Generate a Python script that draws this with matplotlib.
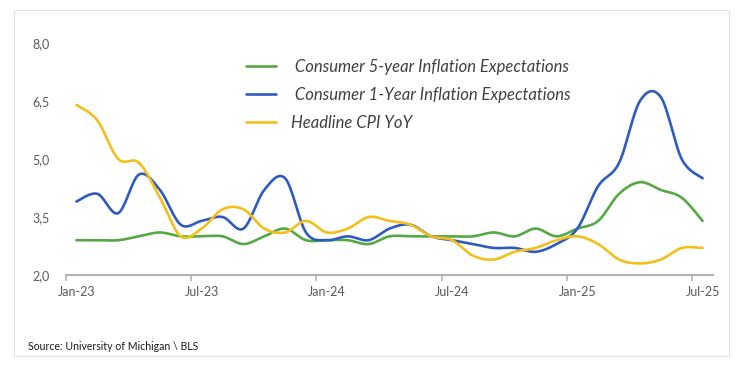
import numpy as np
import matplotlib
matplotlib.use("Agg")
import matplotlib.pyplot as plt
from matplotlib.patches import Rectangle

months = ["Jan-23","Feb-23","Mar-23","Apr-23","May-23","Jun-23","Jul-23","Aug-23","Sep-23","Oct-23","Nov-23","Dec-23",
          "Jan-24","Feb-24","Mar-24","Apr-24","May-24","Jun-24","Jul-24","Aug-24","Sep-24","Oct-24","Nov-24","Dec-24",
          "Jan-25","Feb-25","Mar-25","Apr-25","May-25","Jun-25","Jul-25"]

five_year = [2.9, 2.9, 2.9, 3.0, 3.1, 3.0, 3.0, 3.0, 2.8, 3.0, 3.2, 2.9,
             2.9, 2.9, 2.8, 3.0, 3.0, 3.0, 3.0, 3.0, 3.1, 3.0, 3.2, 3.0,
             3.2, 3.4, 4.1, 4.4, 4.2, 4.0, 3.4]
one_year = [3.9, 4.1, 3.6, 4.6, 4.2, 3.3, 3.4, 3.5, 3.2, 4.2, 4.5, 3.1,
            2.9, 3.0, 2.9, 3.2, 3.3, 3.0, 2.9, 2.8, 2.7, 2.7, 2.6, 2.8,
            3.2, 4.3, 4.9, 6.5, 6.6, 5.0, 4.5]
cpi_yoy = [6.4, 6.0, 5.0, 4.9, 4.0, 3.0, 3.2, 3.7, 3.7, 3.2, 3.1, 3.4,
           3.1, 3.2, 3.5, 3.4, 3.3, 3.0, 2.9, 2.5, 2.4, 2.6, 2.7, 2.9,
           3.0, 2.8, 2.4, 2.3, 2.4, 2.7, 2.7]

series_labels = [" Consumer 5-year Inflation Expectations",
                 " Consumer 1-Year Inflation Expectations",
                 "Headline CPI YoY"]
series_colors = ["#56a845", "#2e5cbc", "#f3bf1c"]
y_ticks = [2.0, 3.5, 5.0, 6.5, 8.0]
x_label_idx = [0, 6, 12, 18, 24, 30]
source_text = "Source: University of Michigan \\ BLS"


def smooth(xs, ys, n=30):
    xs = np.asarray(xs, float)
    ys = np.asarray(ys, float)
    px, py = [], []
    m = len(xs)
    for i in range(m - 1):
        i0 = max(i - 1, 0)
        i3 = min(i + 2, m - 1)
        x0, y0 = xs[i], ys[i]
        x3, y3 = xs[i + 1], ys[i + 1]
        x1 = x0 + (xs[i + 1] - xs[i0]) / 6.0
        y1 = y0 + (ys[i + 1] - ys[i0]) / 6.0
        x2 = x3 - (xs[i3] - xs[i]) / 6.0
        y2 = y3 - (ys[i3] - ys[i]) / 6.0
        t = np.linspace(0, 1, n, endpoint=(i == m - 2))
        a = (1 - t) ** 3
        b = 3 * (1 - t) ** 2 * t
        c = 3 * (1 - t) * t ** 2
        d = t ** 3
        px.append(a * x0 + b * x1 + c * x2 + d * x3)
        py.append(a * y0 + b * y1 + c * y2 + d * y3)
    return np.concatenate(px), np.concatenate(py)


fig = plt.figure(figsize=(7.45, 3.71), dpi=100)
fig.patch.set_facecolor("white")
fig.patches.append(Rectangle((14 / 745, 1 - 356 / 371), (729 - 14) / 745, (356 - 10) / 371,
                             transform=fig.transFigure, fill=False, edgecolor="#e3e3e3", linewidth=0.8))

ax = fig.add_axes([66 / 745, 1 - 275 / 371, (713 - 66) / 745, (275 - 43) / 371])
x = np.arange(len(months))
handles = []
for vals, col, lab in zip([five_year, one_year, cpi_yoy], series_colors, series_labels):
    sx, sy = smooth(x, vals)
    h, = ax.plot(sx, sy, color=col, linewidth=1.9, label=lab, solid_capstyle="round")
    handles.append(h)

ax.set_xlim(-0.5, len(months) - 0.5)
ax.set_ylim(2.0, 8.0)
ax.set_yticks(y_ticks)
ax.set_yticklabels([f"{v:.1f}".replace(".", ",") for v in y_ticks])
ax.tick_params(axis="y", length=0, pad=12, labelsize=9, labelcolor="#595959")
for lbl in ax.get_yticklabels():
    lbl.set_fontfamily("Lato")

ax.set_xticks([i - 0.5 for i in x_label_idx])
ax.set_xticklabels([])
ax.set_xticks(x_label_idx, minor=True)
ax.set_xticklabels([months[i] for i in x_label_idx], minor=True, fontfamily="Lato")
ax.tick_params(axis="x", which="major", length=4, width=1.2, color="#b3b3b3", direction="out")
ax.tick_params(axis="x", which="minor", length=0, pad=8, labelsize=9, labelcolor="#595959")

for s in ["top", "right", "left"]:
    ax.spines[s].set_visible(False)
ax.spines["bottom"].set_color("#b3b3b3")
ax.spines["bottom"].set_linewidth(1.5)

leg = fig.legend(handles=handles, loc="upper left", bbox_to_anchor=(246 / 745, 1 - 59 / 371),
                 frameon=False, handlelength=1.8, handletextpad=0.9, labelspacing=0.72,
                 prop={"family": "Lato", "style": "italic", "size": 12}, borderaxespad=0, borderpad=0)
for t in leg.get_texts():
    t.set_color("#404040")

fig.text(28 / 745, 1 - 347 / 371, source_text, fontsize=7.6, family="Lato", color="#1a1a1a", va="center")

fig.savefig("out.png", dpi=100)
